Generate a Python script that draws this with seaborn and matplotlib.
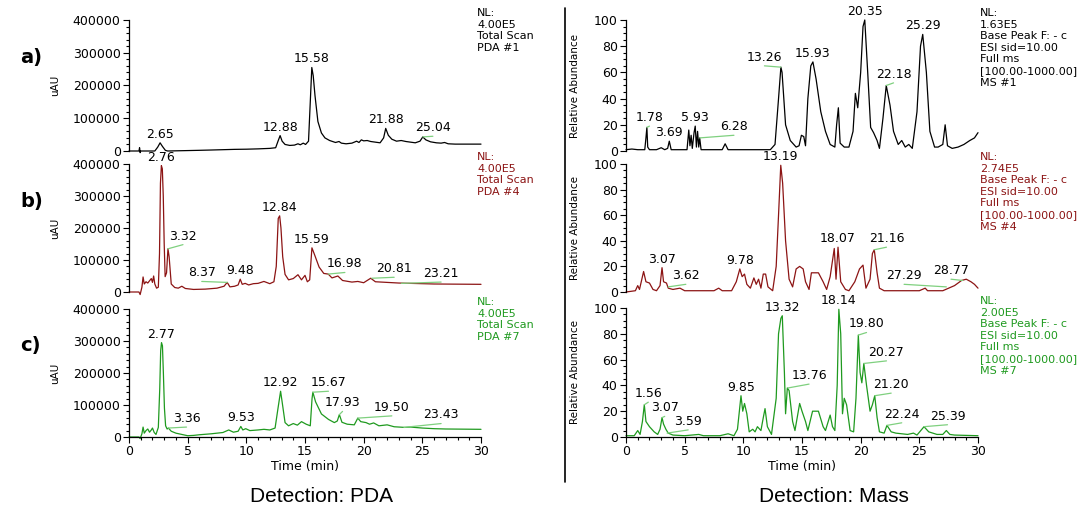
import matplotlib
matplotlib.use("Agg")
import pandas as pd
import seaborn as sns
import matplotlib.pyplot as plt
from matplotlib.ticker import MultipleLocator
from matplotlib.lines import Line2D

# ---- traces: (time [min], signal) ----
pda_a = [(0, 0), (0.85, 0), (0.9, 10000), (0.95, -5000), (1.0, 0), (2.2, 0), (2.45, 12000),
         (2.65, 25000), (2.85, 14000), (3.1, 2000), (3.3, 0), (5.9, 2000), (7, 3000), (8, 4000),
         (9, 5000), (10, 5500), (11, 6500), (12, 8000), (12.5, 10000), (12.7, 30000),
         (12.88, 47000), (13.05, 30000), (13.3, 20000), (13.7, 17000), (14.1, 18000),
         (14.4, 22000), (14.6, 19000), (14.85, 24000), (15.05, 20000), (15.3, 30000),
         (15.45, 150000), (15.58, 255000), (15.7, 230000), (15.85, 170000), (16.1, 90000),
         (16.4, 55000), (16.7, 40000), (17.1, 32000), (17.6, 26000), (17.9, 29000),
         (18.1, 24000), (18.5, 22000), (19.0, 24000), (19.4, 30000), (19.6, 26000),
         (19.8, 34000), (20.0, 31000), (20.3, 32000), (20.6, 29000), (21.0, 27000),
         (21.4, 25000), (21.7, 40000), (21.88, 69000), (22.1, 48000), (22.4, 36000),
         (22.8, 30000), (23.2, 32000), (23.6, 29000), (24.0, 27000), (24.4, 25000),
         (24.8, 30000), (25.04, 43000), (25.3, 34000), (25.7, 28000), (26.2, 25000),
         (26.6, 24000), (26.9, 26000), (27.2, 22000), (27.8, 21000), (30, 21000)]

pda_b = [(0, 0), (0.85, 0), (0.95, -8000), (1.1, 15000), (1.2, 47000), (1.3, 25000),
         (1.45, 32000), (1.6, 28000), (1.75, 35000), (1.9, 42000), (2.0, 30000), (2.1, 50000),
         (2.2, 25000), (2.35, 12000), (2.5, 15000), (2.6, 120000), (2.68, 340000),
         (2.76, 395000), (2.84, 385000), (2.92, 300000), (3.0, 150000), (3.08, 48000),
         (3.2, 60000), (3.32, 135000), (3.42, 110000), (3.6, 25000), (3.9, 14000),
         (4.2, 12000), (4.5, 18000), (4.8, 11000), (5.5, 8000), (6.5, 9000), (7.5, 12000),
         (8.1, 18000), (8.37, 30000), (8.6, 16000), (9.0, 18000), (9.3, 22000), (9.48, 40000),
         (9.65, 24000), (9.9, 27000), (10.2, 22000), (10.6, 26000), (11.0, 27000),
         (11.5, 33000), (12.0, 26000), (12.35, 32000), (12.55, 80000), (12.72, 230000),
         (12.84, 238000), (12.95, 200000), (13.1, 110000), (13.3, 55000), (13.6, 38000),
         (14.0, 42000), (14.4, 54000), (14.7, 38000), (15.0, 52000), (15.2, 32000),
         (15.4, 38000), (15.59, 138000), (15.8, 118000), (16.2, 78000), (16.6, 58000),
         (16.98, 56000), (17.3, 44000), (17.8, 50000), (18.2, 36000), (19.0, 31000),
         (19.5, 33000), (20.0, 29000), (20.6, 43000), (21.0, 32000), (22.0, 30000),
         (23.0, 28000), (24.0, 27000), (25.0, 26000), (26.0, 25000), (30, 24000)]

pda_c = [(0, 0), (0.85, 0), (0.95, -5000), (1.1, 10000), (1.2, 31000), (1.3, 12000),
         (1.45, 20000), (1.6, 25000), (1.75, 15000), (1.9, 22000), (2.0, 28000), (2.15, 14000),
         (2.3, 8000), (2.5, 30000), (2.62, 150000), (2.7, 270000), (2.77, 295000),
         (2.85, 285000), (2.93, 200000), (3.02, 90000), (3.12, 35000), (3.25, 25000),
         (3.36, 28000), (3.6, 18000), (4.0, 12000), (4.5, 8000), (5.0, 4000), (5.5, 5000),
         (6.0, 7000), (7.0, 10000), (8.0, 14000), (8.5, 22000), (8.9, 15000), (9.3, 18000),
         (9.53, 33000), (9.7, 22000), (9.95, 26000), (10.3, 20000), (11.0, 22000),
         (11.5, 24000), (12.0, 22000), (12.45, 28000), (12.7, 90000), (12.92, 143000),
         (13.05, 110000), (13.3, 45000), (13.6, 35000), (14.0, 42000), (14.35, 37000),
         (14.7, 48000), (15.1, 40000), (15.45, 35000), (15.6, 120000), (15.67, 140000),
         (15.9, 110000), (16.4, 72000), (17.0, 55000), (17.5, 45000), (17.75, 50000),
         (17.93, 70000), (18.15, 46000), (18.6, 40000), (19.2, 38000), (19.5, 59000),
         (19.75, 48000), (20.2, 45000), (20.5, 40000), (20.85, 44000), (21.3, 35000),
         (22.0, 38000), (22.6, 32000), (23.5, 30000), (24.0, 31000), (25.0, 28000),
         (26.0, 26000), (27.0, 25000), (30, 24000)]

ms_a = [(0, 1), (0.5, 1.5), (1.0, 1), (1.6, 1), (1.7, 10), (1.78, 18), (1.85, 3), (2.0, 1),
        (2.6, 1), (3.0, 2.5), (3.3, 1), (3.55, 2), (3.69, 7.5), (3.85, 1), (4.5, 1), (5.2, 1),
        (5.35, 16), (5.45, 4), (5.55, 12), (5.65, 2), (5.8, 14), (5.9, 19), (6.0, 3),
        (6.1, 15), (6.2, 3), (6.28, 10), (6.4, 1), (7.5, 1), (8.2, 1), (8.45, 5.5), (8.7, 1),
        (10, 1), (12.3, 1), (12.7, 5), (13.0, 40), (13.2, 64), (13.3, 60), (13.45, 40),
        (13.6, 20), (14.0, 8), (14.5, 3), (14.75, 4), (14.95, 12), (15.15, 11), (15.3, 4),
        (15.5, 40), (15.75, 65), (15.93, 68), (16.2, 55), (16.6, 30), (17.0, 15), (17.4, 5),
        (17.8, 3), (17.95, 20), (18.1, 33), (18.25, 6), (18.6, 3), (19.0, 3), (19.35, 15),
        (19.55, 44), (19.75, 33), (20.0, 60), (20.2, 95), (20.35, 100), (20.6, 60),
        (20.85, 18), (21.1, 14), (21.4, 8), (21.6, 2), (21.9, 25), (22.18, 50), (22.5, 35),
        (22.8, 15), (23.2, 5), (23.5, 8), (23.8, 3), (24.1, 5), (24.4, 2), (24.8, 30),
        (25.1, 80), (25.29, 89), (25.6, 60), (25.9, 15), (26.3, 3), (26.6, 3), (27.0, 5),
        (27.2, 20), (27.4, 4), (27.8, 2), (28.3, 3), (28.8, 5), (29.3, 8), (29.7, 10), (30, 14)]

ms_b = [(0, 0), (0.8, 1), (1.0, 5), (1.15, 2), (1.35, 10), (1.5, 16), (1.7, 8), (2.0, 7),
        (2.3, 2), (2.6, 1), (2.9, 5), (3.07, 19), (3.2, 8), (3.45, 7), (3.6, 3), (4.0, 2),
        (4.6, 3), (5.0, 1), (6.0, 1), (7.5, 1), (7.9, 3), (8.2, 1), (9.0, 1), (9.4, 8),
        (9.7, 18), (9.9, 12), (10.1, 14), (10.3, 6), (10.6, 3), (10.9, 11), (11.1, 6),
        (11.3, 10), (11.5, 3), (11.7, 14), (11.9, 14), (12.1, 4), (12.5, 1), (12.8, 20),
        (13.0, 60), (13.19, 99), (13.35, 85), (13.6, 40), (13.9, 10), (14.2, 4), (14.5, 18),
        (14.8, 20), (15.1, 18), (15.3, 8), (15.6, 2), (15.8, 15), (16.4, 15), (16.8, 8),
        (17.1, 2), (17.4, 12), (17.75, 34), (17.9, 10), (18.07, 35), (18.3, 8), (18.7, 2),
        (19.0, 1), (19.5, 8), (19.9, 18), (20.2, 21), (20.45, 3), (20.8, 10), (21.0, 30),
        (21.16, 33), (21.4, 15), (21.6, 3), (22.0, 1), (23.0, 1), (25.0, 1), (25.5, 3),
        (25.7, 1), (27.0, 1), (27.5, 3), (28.0, 5), (28.6, 9), (29.0, 10), (29.4, 8),
        (29.7, 6), (30, 3)]

ms_c = [(0, 1), (0.7, 1), (1.0, 5), (1.2, 2), (1.4, 12), (1.56, 25), (1.7, 12), (2.0, 8),
        (2.4, 4), (2.7, 2), (2.9, 6), (3.07, 15), (3.2, 10), (3.4, 6), (3.6, 3), (4.0, 1.5),
        (5.0, 1), (6.2, 2), (6.6, 1), (8.0, 1), (8.7, 2.5), (9.2, 1), (9.5, 6), (9.8, 32),
        (9.95, 20), (10.1, 26), (10.3, 18), (10.5, 4), (10.8, 6), (11.0, 4), (11.2, 8),
        (11.5, 5), (11.7, 15), (11.85, 22), (12.05, 8), (12.4, 2), (12.8, 30), (13.0, 80),
        (13.2, 92), (13.32, 94), (13.5, 50), (13.6, 18), (13.75, 38), (13.9, 36), (14.2, 12),
        (14.4, 5), (14.8, 26), (15.0, 20), (15.3, 12), (15.5, 5), (15.9, 20), (16.4, 20),
        (16.8, 8), (17.0, 5), (17.4, 17), (17.6, 8), (17.8, 5), (18.0, 40), (18.14, 99),
        (18.3, 80), (18.45, 18), (18.6, 30), (18.8, 25), (19.1, 5), (19.4, 4), (19.6, 30),
        (19.8, 79), (19.95, 50), (20.1, 42), (20.27, 57), (20.5, 40), (20.8, 20), (21.0, 25),
        (21.2, 32), (21.4, 15), (21.6, 4), (22.0, 3), (22.24, 9), (22.6, 4), (23.0, 3),
        (24.0, 2), (24.5, 3), (24.8, 1.5), (25.4, 8), (25.8, 4), (26.5, 2), (27.0, 2),
        (27.3, 5), (27.6, 2), (28.0, 1.5), (30, 1)]

# ---- peak labels: (text, peak time, peak height, leader end time, leader end height) ----
pda_a_peaks = [("2.65", 2.65, 25000, None, None), ("12.88", 12.88, 47000, None, None),
               ("15.58", 15.58, 255000, None, None), ("21.88", 21.88, 69000, None, None),
               ("25.04", 25.04, 43000, 25.9, 45000)]
pda_b_peaks = [("2.76", 2.76, 395000, None, None), ("3.32", 3.32, 135000, 4.6, 148000),
               ("8.37", 8.37, 30000, 6.2, 33000), ("9.48", 9.48, 40000, None, None),
               ("12.84", 12.84, 238000, None, None), ("15.59", 15.59, 138000, None, None),
               ("16.98", 16.98, 56000, 18.4, 61000), ("20.81", 20.7, 43000, 22.6, 46000),
               ("23.21", 23.21, 27000, 26.6, 31000)]
pda_c_peaks = [("2.77", 2.77, 295000, None, None), ("3.36", 3.36, 28000, 4.9, 31000),
               ("9.53", 9.53, 33000, None, None), ("12.92", 12.92, 143000, None, None),
               ("15.67", 15.67, 140000, 17.0, 143000), ("17.93", 17.93, 70000, 18.2, 80000),
               ("19.50", 19.5, 59000, 22.4, 66000), ("23.43", 23.43, 30000, 26.6, 42000)]
ms_a_peaks = [("1.78", 1.78, 18, 2.0, 19), ("3.69", 3.69, 7.5, None, None),
              ("5.93", 5.9, 19, None, None), ("6.28", 6.28, 10, 9.2, 12),
              ("13.26", 13.2, 64, 11.8, 65), ("15.93", 15.93, 68, None, None),
              ("20.35", 20.35, 100, None, None), ("22.18", 22.18, 50, 22.8, 52),
              ("25.29", 25.29, 89, None, None)]
ms_b_peaks = [("3.07", 3.07, 19, None, None), ("3.62", 3.6, 4, 5.1, 6),
              ("9.78", 9.7, 18, None, None), ("13.19", 13.19, 99, None, None),
              ("18.07", 18.07, 35, None, None), ("21.16", 21.16, 33, 22.2, 35),
              ("27.29", 27.3, 4, 23.7, 6), ("28.77", 28.7, 9, 27.7, 10)]
ms_c_peaks = [("1.56", 1.56, 25, 1.9, 27), ("3.07", 3.07, 15, 3.3, 16),
              ("3.59", 3.5, 3, 5.3, 5.5), ("9.85", 9.8, 32, None, None),
              ("13.32", 13.32, 94, None, None), ("13.76", 13.8, 38, 15.6, 41),
              ("18.14", 18.14, 99, None, None), ("19.80", 19.8, 79, 20.5, 81),
              ("20.27", 20.27, 57, 22.2, 59), ("21.20", 21.2, 32, 22.6, 34),
              ("22.24", 22.24, 9, 23.5, 11), ("25.39", 25.4, 8, 27.4, 9.5)]

pda_info = ["PDA #1", "PDA #4", "PDA #7"]
ms_nl = ["1.63E5", "2.74E5", "2.00E5"]
ms_info = ["MS #1", "MS #4", "MS #7"]
row_tags = ["a)", "b)", "c)"]

BLACK, RED, GREEN = "#000000", "#8c1414", "#1f9a1f"
LEAD = "#7fd07f"
row_colors = [BLACK, RED, GREEN]

sns.set_theme(style="ticks")
plt.rcParams["font.family"] = ["DejaVu Sans"]
plt.rcParams.update({"axes.linewidth": 0.9, "axes.edgecolor": "black",
                     "text.color": "black", "axes.labelcolor": "black",
                     "xtick.color": "black", "ytick.color": "black"})

W, H = 1083, 513
fig = plt.figure(figsize=(W / 100, H / 100), dpi=100)


def px_axes(x0, top, x1, bottom):
    return fig.add_axes([x0 / W, 1 - bottom / H, (x1 - x0) / W, (bottom - top) / H])


def draw(ax, trace, peaks, color, ms, last):
    df = pd.DataFrame(trace, columns=["t", "v"])
    sns.lineplot(data=df, x="t", y="v", ax=ax, color=color, lw=0.9,
                 estimator=None, sort=False, clip_on=False)
    for lab, pt, pv, lt, lv in peaks:
        if lt is not None:
            ax.plot([pt, lt], [pv, lv], color=LEAD, lw=0.9, clip_on=False)
            tx, ty = lt, lv
        else:
            tx, ty = pt, pv
        ax.annotate(lab, (tx, ty), xytext=(0, 1.5), textcoords="offset points",
                    ha="center", va="bottom", fontsize=9, color="black",
                    annotation_clip=False)

    ax.set_xlim(0, 30)
    if ms:
        ax.set_ylim(0, 100)
        ax.yaxis.set_major_locator(MultipleLocator(20))
        ax.yaxis.set_minor_locator(MultipleLocator(5))
        ax.set_ylabel("Relative Abundance", fontsize=7.5)
        ax.yaxis.set_label_coords(-0.13, 0.5)
    else:
        ax.set_ylim(0, 400000)
        ticks = [0, 100000, 200000, 300000, 400000]
        ax.set_yticks(ticks)
        ax.set_yticklabels([str(v) for v in ticks])
        ax.yaxis.set_minor_locator(MultipleLocator(20000))
        ax.set_ylabel("uAU", fontsize=7.5)
        ax.yaxis.set_label_coords(-0.196, 0.5)

    ax.spines[["top", "right"]].set_visible(False)
    ax.tick_params(which="major", direction="out", length=4, width=0.8,
                   labelsize=9, pad=2)
    ax.tick_params(which="minor", direction="out", length=2.5, width=0.8)
    if last:
        ax.xaxis.set_major_locator(MultipleLocator(5))
        ax.xaxis.set_minor_locator(MultipleLocator(1))
        ax.set_xlabel("Time (min)", fontsize=9, labelpad=1)
    else:
        ax.spines["bottom"].set_visible(False)
        ax.tick_params(axis="x", which="both", bottom=False, labelbottom=False)
        ax.set_xlabel("")


rows_left = [(20, 151), (164, 292), (309, 437)]
rows_right = [(20, 151), (164, 292), (308, 437)]
pda_traces = [pda_a, pda_b, pda_c]
ms_traces = [ms_a, ms_b, ms_c]
pda_peaks = [pda_a_peaks, pda_b_peaks, pda_c_peaks]
ms_peaks = [ms_a_peaks, ms_b_peaks, ms_c_peaks]

for i in range(3):
    col = row_colors[i]
    top, bot = rows_left[i]
    axl = px_axes(129, top, 481, bot)
    draw(axl, pda_traces[i], pda_peaks[i], col, False, i == 2)
    top_r, bot_r = rows_right[i]
    axr = px_axes(626, top_r, 978, bot_r)
    draw(axr, ms_traces[i], ms_peaks[i], col, True, i == 2)

    lines_l = ["NL:", "4.00E5", "Total Scan", pda_info[i]]
    for k, s in enumerate(lines_l):
        fig.text(477 / W, 1 - (top - 7 + k * 11.6) / H, s, fontsize=8, color=col,
                 ha="left", va="center")
    lines_r = ["NL:", ms_nl[i], "Base Peak F: - c", "ESI sid=10.00", "Full ms",
               "[100.00-1000.00]", ms_info[i]]
    for k, s in enumerate(lines_r):
        fig.text(980 / W, 1 - (top_r - 7 + k * 11.6) / H, s, fontsize=8, color=col,
                 ha="left", va="center")

    fig.text(20 / W, 1 - (58 + i * 144) / H, row_tags[i], fontsize=14,
             fontweight="heavy", color="black", ha="left", va="center")

fig.add_artist(Line2D([565 / W, 565 / W], [1 - 8 / H, 1 - 482 / H], color="black", lw=1.2))

fig.text(322 / W, 1 - 497 / H, "Detection: PDA", fontsize=15, family="Liberation Sans",
         ha="center", va="center")
fig.text(834 / W, 1 - 497 / H, "Detection: Mass", fontsize=15, family="Liberation Sans",
         ha="center", va="center")

fig.savefig("out.png", dpi=100)
